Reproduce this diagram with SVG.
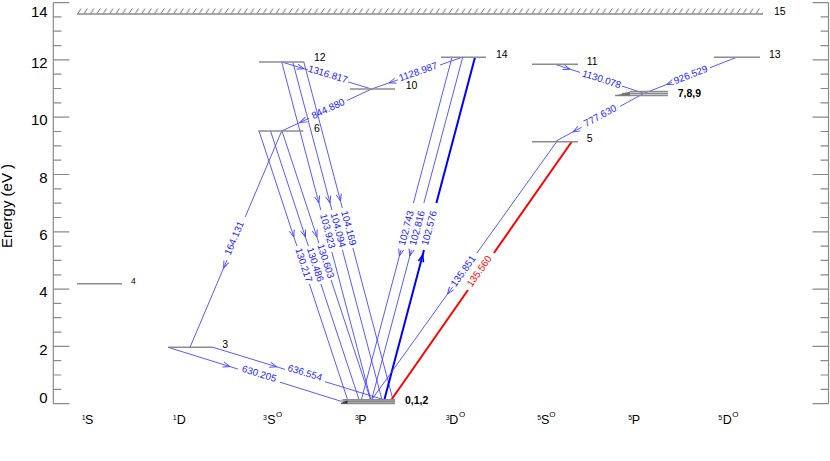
<svg xmlns="http://www.w3.org/2000/svg" width="830" height="461" viewBox="0 0 830 461">
<defs>
<style>
.ax{stroke:#8a8a8a;stroke-width:1.2;fill:none}
.lv{stroke:#8c8c8c;stroke-width:1.5;fill:none}
.tr{stroke:#4646ff;stroke-width:0.9;fill:none}
.trk{stroke:#0000ff;stroke-width:2;fill:none}
.red{stroke:#ff0000;stroke-width:2;fill:none}
.tk{font-family:"Liberation Sans",Arial,sans-serif;font-size:15px;fill:#000;text-anchor:end}
.nl{font-family:"Liberation Sans",Arial,sans-serif;font-size:10.5px;fill:#000}
.bl{font-family:"Liberation Sans",Arial,sans-serif;font-size:10.5px;font-weight:bold;fill:#000}
.wl{font-family:"Liberation Sans",Arial,sans-serif;font-size:9.8px;fill:#2020ff;text-anchor:middle;dominant-baseline:central}
.wr{font-family:"Liberation Sans",Arial,sans-serif;font-size:9.8px;fill:#ff0000;text-anchor:middle;dominant-baseline:central}
.cl{font-family:"Liberation Sans",Arial,sans-serif;font-size:12.5px;fill:#000}
.cs{font-family:"Liberation Sans",Arial,sans-serif;font-size:7px;fill:#000}
.co{font-family:"Liberation Sans",Arial,sans-serif;font-size:8px;fill:#000}
</style>
<marker id="arr" viewBox="-8 -4 10 8" refX="0" refY="0" markerWidth="10" markerHeight="8" markerUnits="userSpaceOnUse" orient="auto">
<path d="M-7,-2.6 L0,0 L-7,2.6" fill="none" stroke="#4646ff" stroke-width="0.9"/>
</marker>
<marker id="arrk" viewBox="-8 -4 10 8" refX="0" refY="0" markerWidth="10" markerHeight="8" markerUnits="userSpaceOnUse" orient="auto">
<path d="M-7,-2.6 L0,0 L-7,2.6" fill="none" stroke="#0000ff" stroke-width="1.6"/>
</marker>
<pattern id="hatch" x="77" y="8" width="6.4" height="6" patternUnits="userSpaceOnUse">
<path d="M0.5,6 L4,0.5" stroke="#555" stroke-width="0.9"/>
</pattern>
</defs>
<rect width="830" height="461" fill="#fff"/>

<g id="axes">
<path class="ax" d="M53.3,2.6 V403.7 M828.5,2.6 V403.7"/>
<path class="ax" d="M53.3,403.7 h16 M53.3,346.4 h16 M53.3,289.1 h16 M53.3,231.8 h16 M53.3,174.5 h16 M53.3,117.2 h16 M53.3,59.9 h16 M53.3,2.6 h16
M53.3,389.4 h8 M53.3,375 h8 M53.3,360.7 h8 M53.3,332.1 h8 M53.3,317.7 h8 M53.3,303.4 h8 M53.3,274.8 h8 M53.3,260.4 h8 M53.3,246.1 h8 M53.3,217.5 h8 M53.3,203.1 h8 M53.3,188.8 h8 M53.3,160.2 h8 M53.3,145.8 h8 M53.3,131.5 h8 M53.3,102.9 h8 M53.3,88.5 h8 M53.3,74.2 h8 M53.3,45.6 h8 M53.3,31.2 h8 M53.3,16.9 h8"/>
<path class="ax" d="M828.5,403.7 h-16 M828.5,346.4 h-16 M828.5,289.1 h-16 M828.5,231.8 h-16 M828.5,174.5 h-16 M828.5,117.2 h-16 M828.5,59.9 h-16 M828.5,2.6 h-16
M828.5,389.4 h-8 M828.5,375 h-8 M828.5,360.7 h-8 M828.5,332.1 h-8 M828.5,317.7 h-8 M828.5,303.4 h-8 M828.5,274.8 h-8 M828.5,260.4 h-8 M828.5,246.1 h-8 M828.5,217.5 h-8 M828.5,203.1 h-8 M828.5,188.8 h-8 M828.5,160.2 h-8 M828.5,145.8 h-8 M828.5,131.5 h-8 M828.5,102.9 h-8 M828.5,88.5 h-8 M828.5,74.2 h-8 M828.5,45.6 h-8 M828.5,31.2 h-8 M828.5,16.9 h-8"/>
<text class="tk" x="47.7" y="403.3">0</text>
<text class="tk" x="47.7" y="354.6">2</text>
<text class="tk" x="47.7" y="297.1">4</text>
<text class="tk" x="47.7" y="239.8">6</text>
<text class="tk" x="47.7" y="182.5">8</text>
<text class="tk" x="47.7" y="125.2">10</text>
<text class="tk" x="47.7" y="67.9">12</text>
<text class="tk" x="47.7" y="16.5">14</text>
<text class="tk" transform="translate(12.4,206) rotate(-90)" style="text-anchor:middle">Energy (eV )</text>
</g>

<g id="terms">
<text class="cs" x="81.7" y="420">1</text><text class="cl" x="85" y="424.3">S</text>
<text class="cs" x="172.7" y="420">1</text><text class="cl" x="176.7" y="424.3">D</text>
<text class="cs" x="263" y="420">3</text><text class="cl" x="267.3" y="424.3">S</text><text class="co" x="276" y="416.7">O</text>
<text class="cs" x="355" y="420">3</text><text class="cl" x="358.3" y="424.3">P</text>
<text class="cs" x="445.7" y="420">3</text><text class="cl" x="449.3" y="424.3">D</text><text class="co" x="459" y="416.7">O</text>
<text class="cs" x="537.3" y="420">5</text><text class="cl" x="541" y="424.3">S</text><text class="co" x="549.3" y="416.7">O</text>
<text class="cs" x="628.3" y="420">5</text><text class="cl" x="631.7" y="424.3">P</text>
<text class="cs" x="718.3" y="420">5</text><text class="cl" x="722.7" y="424.3">D</text><text class="co" x="732.3" y="416.7">O</text>
</g>

<g id="connectors">
<!-- 630.205 -->
<polyline class="tr" points="168,347.3 230,366.6 238,369.1" marker-mid="url(#arr)"/>
<line class="tr" x1="280" y1="382.2" x2="345" y2="402.5"/>
<!-- 636.554 -->
<polyline class="tr" points="213,347.3 276.7,366.8 285,369.4" marker-mid="url(#arr)"/>
<line class="tr" x1="325" y1="381.7" x2="388" y2="401"/>
<!-- 164.131 -->
<line class="tr" x1="281.7" y1="131" x2="245.2" y2="217"/>
<polyline class="tr" points="227,260 223.6,268 190,347.3" marker-mid="url(#arr)"/>
<!-- 844.880 -->
<line class="tr" x1="371.7" y1="89" x2="347" y2="100.5"/>
<polyline class="tr" points="309,118.3 300,122.5 281.7,131" marker-mid="url(#arr)"/>
<!-- 1128.987 -->
<line class="tr" x1="462" y1="57.3" x2="440" y2="65"/>
<polyline class="tr" points="398,79.8 389,82.9 371.7,89" marker-mid="url(#arr)"/>
<!-- 1316.817 -->
<polyline class="tr" points="281.7,62 304,68.7 308,69.9" marker-mid="url(#arr)"/>
<line class="tr" x1="348" y1="81.9" x2="371.7" y2="89"/>
<!-- 130.217 / 130.486 / 130.603 -->
<polyline class="tr" points="259,131 293.9,237 296.9,246" marker-mid="url(#arr)"/>
<line class="tr" x1="309.4" y1="284" x2="348" y2="401"/>
<polyline class="tr" points="270.5,131 305.4,237 308.4,246" marker-mid="url(#arr)"/>
<line class="tr" x1="320.9" y1="284" x2="359.5" y2="401"/>
<polyline class="tr" points="282,131 316.9,237 318.9,243" marker-mid="url(#arr)"/>
<line class="tr" x1="331.1" y1="280" x2="371" y2="401"/>
<!-- 103.923 / 104.094 / 104.169 -->
<polyline class="tr" points="281.7,62 318.9,203 320.8,210" marker-mid="url(#arr)"/>
<line class="tr" x1="331.9" y1="252" x2="371.2" y2="401"/>
<polyline class="tr" points="292.8,62 330,203 331.9,210" marker-mid="url(#arr)"/>
<line class="tr" x1="342.4" y1="250" x2="382.3" y2="401"/>
<polyline class="tr" points="303.8,62 340.5,201 342.3,208" marker-mid="url(#arr)"/>
<line class="tr" x1="352.9" y1="248" x2="393.3" y2="401"/>
<!-- 102.743 / 102.816 / 102.576 -->
<line class="tr" x1="452" y1="57.3" x2="413.4" y2="203"/>
<polyline class="tr" points="401,250 399.4,256 361,401" marker-mid="url(#arr)"/>
<line class="tr" x1="462.7" y1="57.3" x2="423.9" y2="203"/>
<polyline class="tr" points="411.4,250 409.8,256 371.3,401" marker-mid="url(#arr)"/>
<polyline class="trk" points="384,401 422.7,255 424,250" marker-mid="url(#arrk)"/>
<line class="trk" x1="436.4" y1="203" x2="475" y2="57.3"/>
<!-- 135.851 -->
<line class="tr" x1="556.7" y1="141.7" x2="476.9" y2="253"/>
<polyline class="tr" points="452.6,287 447.5,294 370.8,401" marker-mid="url(#arr)"/>
<!-- 135.560 -->
<line class="red" x1="571.7" y1="141.7" x2="493.9" y2="253"/>
<line class="red" x1="468" y1="290" x2="390" y2="401.7"/>
<!-- 777.630 -->
<line class="tr" x1="644" y1="93.3" x2="620" y2="106.4"/>
<polyline class="tr" points="581.7,127.2 573,131.9 555,141.7" marker-mid="url(#arr)"/>
<!-- 1130.078 -->
<polyline class="tr" points="555,64.3 570,69.2 580,72.4" marker-mid="url(#arr)"/>
<line class="tr" x1="622" y1="86.1" x2="644" y2="93.3"/>
<!-- 926.529 -->
<line class="tr" x1="736.7" y1="57.3" x2="710" y2="67.7"/>
<polyline class="tr" points="672,82.4 666.7,84.5 644,93.3" marker-mid="url(#arr)"/>

<text class="wl" transform="translate(259.3,373.5) rotate(17.3)">630.205</text>
<text class="wl" transform="translate(305,372.5) rotate(17.1)">636.554</text>
<text class="wl" transform="translate(234,238) rotate(-67)">164.131</text>
<text class="wl" transform="translate(328,108.5) rotate(-25)">844.880</text>
<text class="wl" transform="translate(418,71.5) rotate(-19.3)">1128.987</text>
<text class="wl" transform="translate(328,74) rotate(16.7)">1316.817</text>
<text class="wl" transform="translate(304,265) rotate(71.8)">130.217</text>
<text class="wl" transform="translate(315.5,264.5) rotate(71.8)">130.486</text>
<text class="wl" transform="translate(326,261) rotate(71.8)">130.603</text>
<text class="wl" transform="translate(328,231) rotate(75.2)">103.923</text>
<text class="wl" transform="translate(338.5,230) rotate(75.2)">104.094</text>
<text class="wl" transform="translate(349,228) rotate(75.2)">104.169</text>
<text class="wl" transform="translate(406,228) rotate(-75.2)">102.743</text>
<text class="wl" transform="translate(417,228) rotate(-75.2)">102.816</text>
<text class="wl" transform="translate(429,228) rotate(-75.2)">102.576</text>
<text class="wl" transform="translate(463,271) rotate(-54.4)">135.851</text>
<text class="wr" transform="translate(479,271) rotate(-55)">135.560</text>
<text class="wl" transform="translate(600,115.5) rotate(-28.5)">777.630</text>
<text class="wl" transform="translate(601.7,79) rotate(18)">1130.078</text>
<text class="wl" transform="translate(690.5,74.5) rotate(-21.2)">926.529</text>
</g>

<g id="level-0-1-2">
<rect x="341" y="399.3" width="54" height="4.7" fill="#bdbdbd"/>
<path class="lv" d="M343,399.8 H395 M343,401.6 H395 M341,403.4 H395" stroke-width="0.8" stroke="#999"/>
<polygon points="340.5,403.6 347.5,400.4 347.5,403.6" fill="#333"/>
<text class="bl" x="405" y="404">0,1,2</text>
</g>
<g id="level-3"><line class="lv" x1="168" y1="347.3" x2="213" y2="347.3"/><text class="nl" x="222.3" y="348">3</text></g>
<g id="level-4"><line class="lv" x1="77" y1="283.7" x2="122" y2="283.7"/><text class="nl" x="131" y="284" style="font-size:8.5px">4</text></g>
<g id="level-5"><line class="lv" x1="532" y1="141.7" x2="578" y2="141.7"/><text class="nl" x="586.7" y="142">5</text></g>
<g id="level-6"><line class="lv" x1="258.3" y1="131" x2="303.3" y2="131"/><text class="nl" x="314" y="131.5">6</text></g>
<g id="level-7-8-9">
<path class="lv" d="M630,91.4 H668 M622,93.4 H668 M615,95.5 H668" stroke-width="1"/>
<polygon points="615,95.8 630,91.4 630,95.8" fill="#777"/>
<text class="bl" x="677.7" y="97">7,8,9</text>
</g>
<g id="level-10"><line class="lv" x1="350" y1="89" x2="395" y2="89"/><text class="nl" x="405.7" y="89">10</text></g>
<g id="level-11"><line class="lv" x1="532" y1="64.3" x2="578" y2="64.3"/><text class="nl" x="586.7" y="65">11</text></g>
<g id="level-12"><line class="lv" x1="259" y1="62" x2="304.3" y2="62"/><text class="nl" x="314" y="61">12</text></g>
<g id="level-13"><line class="lv" x1="714" y1="57.3" x2="760" y2="57.3"/><text class="nl" x="769" y="58">13</text></g>
<g id="level-14"><line class="lv" x1="441" y1="57.3" x2="486" y2="57.3"/><text class="nl" x="496" y="58">14</text></g>
<g id="level-15">
<rect x="77" y="8" width="686" height="6" fill="url(#hatch)"/>
<line class="lv" x1="77" y1="14" x2="763" y2="14"/>
<text class="nl" x="774" y="15">15</text>
</g>
</svg>
